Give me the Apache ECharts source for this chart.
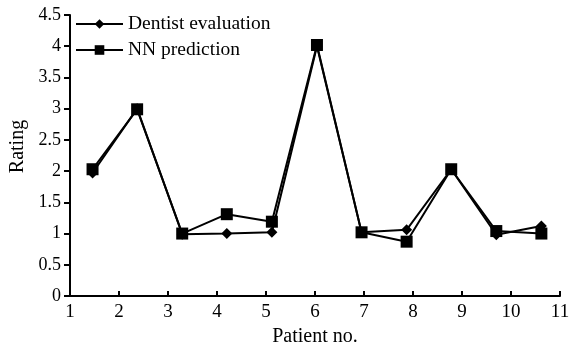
<!DOCTYPE html>
<html>
<head>
<meta charset="utf-8">
<script src="https://cdn.jsdelivr.net/npm/echarts@6/dist/echarts.min.js"></script>
<style>
  html, body { margin: 0; padding: 0; background: #fff; }
  #chart { width: 575px; height: 345px; }
</style>
</head>
<body>
<div id="chart"></div>
<script>
var patientX = [1.46, 2.37, 3.29, 4.2, 5.12, 6.04, 6.95, 7.87, 8.78, 9.7, 10.62];
var dentistEval = [1.97, 3.0, 0.99, 1.0, 1.02, 4.0, 1.02, 1.06, 2.03, 0.98, 1.12];
var nnPred = [2.03, 2.99, 1.0, 1.31, 1.19, 4.02, 1.02, 0.87, 2.03, 1.04, 1.0];

function pairs(ys) {
    return patientX.map(function (x, i) { return [x, ys[i]]; });
}

var mychart = echarts.init(document.getElementById('chart'));
var font = 'Liberation Serif';

var option = {
    animation: false,
    grid: {left: 70, right: 15, top: 15, bottom: 49, outerBoundsMode: 'none', containLabel: false},
    legend: {
        orient: 'vertical',
        left: 70,
        top: 9,
        itemWidth: 47,
        itemHeight: 12,
        itemGap: 6,
        textStyle: {fontFamily: font, fontSize: 19.5, color: '#000'},
        data: ['Dentist evaluation', 'NN prediction']
    },
    xAxis: {
        type: 'value',
        min: 1,
        max: 11,
        interval: 1,
        name: 'Patient no.',
        nameLocation: 'middle',
        nameGap: 30,
        nameTextStyle: {fontFamily: font, fontSize: 20, color: '#000'},
        axisLine: {lineStyle: {color: '#000', width: 2}},
        axisTick: {inside: true, length: 5, lineStyle: {color: '#000', width: 2}},
        axisLabel: {fontFamily: font, fontSize: 19, color: '#000', margin: 7},
        splitLine: {show: false}
    },
    yAxis: {
        type: 'value',
        min: 0,
        max: 4.5,
        interval: 0.5,
        name: 'Rating',
        nameLocation: 'middle',
        nameGap: 40,
        nameTextStyle: {fontFamily: font, fontSize: 20, color: '#000', padding: [0, 0, 0, 18]},
        axisLine: {show: true, lineStyle: {color: '#000', width: 2}},
        axisTick: {show: true, length: 6, lineStyle: {color: '#000', width: 2}},
        axisLabel: {fontFamily: font, fontSize: 18, color: '#000', margin: 9},
        splitLine: {show: false}
    },
    series: [
        {
            name: 'Dentist evaluation',
            type: 'line',
            data: pairs(dentistEval),
            symbol: 'diamond',
            symbolSize: 11,
            itemStyle: {color: '#000'},
            lineStyle: {color: '#000', width: 2}
        },
        {
            name: 'NN prediction',
            type: 'line',
            data: pairs(nnPred),
            symbol: 'rect',
            symbolSize: 12,
            itemStyle: {color: '#000'},
            lineStyle: {color: '#000', width: 2}
        }
    ]
};

mychart.setOption(option);
</script>
</body>
</html>
